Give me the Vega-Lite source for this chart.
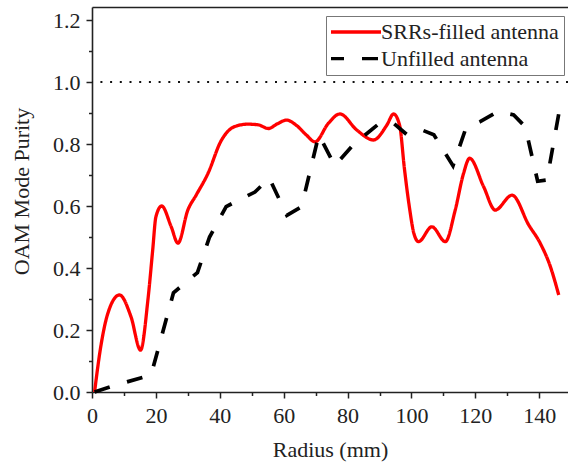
{
  "$schema": "https://vega.github.io/schema/vega-lite/v6.json",
  "autosize": "none",
  "width": 476,
  "height": 385,
  "padding": {"left": 92, "top": 7, "right": 0, "bottom": 71},
  "background": "white",
  "data": {
    "values": [
      {"Radius": 0.8, "Purity": 0.0, "Antenna": "SRRs-filled antenna"},
      {"Radius": 2.8, "Purity": 0.15, "Antenna": "SRRs-filled antenna"},
      {"Radius": 5, "Purity": 0.255, "Antenna": "SRRs-filled antenna"},
      {"Radius": 8.6, "Purity": 0.313, "Antenna": "SRRs-filled antenna"},
      {"Radius": 12.2, "Purity": 0.243, "Antenna": "SRRs-filled antenna"},
      {"Radius": 15.2, "Purity": 0.135, "Antenna": "SRRs-filled antenna"},
      {"Radius": 17.5, "Purity": 0.297, "Antenna": "SRRs-filled antenna"},
      {"Radius": 19, "Purity": 0.458, "Antenna": "SRRs-filled antenna"},
      {"Radius": 20, "Purity": 0.565, "Antenna": "SRRs-filled antenna"},
      {"Radius": 21.8, "Purity": 0.6, "Antenna": "SRRs-filled antenna"},
      {"Radius": 24.8, "Purity": 0.533, "Antenna": "SRRs-filled antenna"},
      {"Radius": 26.9, "Purity": 0.48, "Antenna": "SRRs-filled antenna"},
      {"Radius": 30, "Purity": 0.587, "Antenna": "SRRs-filled antenna"},
      {"Radius": 32.6, "Purity": 0.635, "Antenna": "SRRs-filled antenna"},
      {"Radius": 36.3, "Purity": 0.705, "Antenna": "SRRs-filled antenna"},
      {"Radius": 40.4, "Purity": 0.81, "Antenna": "SRRs-filled antenna"},
      {"Radius": 44.6, "Purity": 0.856, "Antenna": "SRRs-filled antenna"},
      {"Radius": 48.8, "Purity": 0.864, "Antenna": "SRRs-filled antenna"},
      {"Radius": 52, "Purity": 0.862, "Antenna": "SRRs-filled antenna"},
      {"Radius": 55.2, "Purity": 0.85, "Antenna": "SRRs-filled antenna"},
      {"Radius": 58, "Purity": 0.865, "Antenna": "SRRs-filled antenna"},
      {"Radius": 60.9, "Purity": 0.877, "Antenna": "SRRs-filled antenna"},
      {"Radius": 64, "Purity": 0.86, "Antenna": "SRRs-filled antenna"},
      {"Radius": 67, "Purity": 0.83, "Antenna": "SRRs-filled antenna"},
      {"Radius": 69.8, "Purity": 0.807, "Antenna": "SRRs-filled antenna"},
      {"Radius": 74, "Purity": 0.867, "Antenna": "SRRs-filled antenna"},
      {"Radius": 77.6, "Purity": 0.897, "Antenna": "SRRs-filled antenna"},
      {"Radius": 82.9, "Purity": 0.845, "Antenna": "SRRs-filled antenna"},
      {"Radius": 88.1, "Purity": 0.813, "Antenna": "SRRs-filled antenna"},
      {"Radius": 92.3, "Purity": 0.861, "Antenna": "SRRs-filled antenna"},
      {"Radius": 94.4, "Purity": 0.897, "Antenna": "SRRs-filled antenna"},
      {"Radius": 96.3, "Purity": 0.86, "Antenna": "SRRs-filled antenna"},
      {"Radius": 97.8, "Purity": 0.72, "Antenna": "SRRs-filled antenna"},
      {"Radius": 99.3, "Purity": 0.6, "Antenna": "SRRs-filled antenna"},
      {"Radius": 100.8, "Purity": 0.51, "Antenna": "SRRs-filled antenna"},
      {"Radius": 102.2, "Purity": 0.485, "Antenna": "SRRs-filled antenna"},
      {"Radius": 106.4, "Purity": 0.533, "Antenna": "SRRs-filled antenna"},
      {"Radius": 110.6, "Purity": 0.485, "Antenna": "SRRs-filled antenna"},
      {"Radius": 113.7, "Purity": 0.587, "Antenna": "SRRs-filled antenna"},
      {"Radius": 116.3, "Purity": 0.705, "Antenna": "SRRs-filled antenna"},
      {"Radius": 118.2, "Purity": 0.754, "Antenna": "SRRs-filled antenna"},
      {"Radius": 122.6, "Purity": 0.662, "Antenna": "SRRs-filled antenna"},
      {"Radius": 126.2, "Purity": 0.587, "Antenna": "SRRs-filled antenna"},
      {"Radius": 131.5, "Purity": 0.635, "Antenna": "SRRs-filled antenna"},
      {"Radius": 136.7, "Purity": 0.539, "Antenna": "SRRs-filled antenna"},
      {"Radius": 140.3, "Purity": 0.48, "Antenna": "SRRs-filled antenna"},
      {"Radius": 143.5, "Purity": 0.404, "Antenna": "SRRs-filled antenna"},
      {"Radius": 146.1, "Purity": 0.313, "Antenna": "SRRs-filled antenna"},
      {"Radius": 0.8, "Purity": 0.0, "Antenna": "Unfilled antenna"},
      {"Radius": 6, "Purity": 0.018, "Antenna": "Unfilled antenna"},
      {"Radius": 18.5, "Purity": 0.055, "Antenna": "Unfilled antenna"},
      {"Radius": 25.5, "Purity": 0.32, "Antenna": "Unfilled antenna"},
      {"Radius": 33, "Purity": 0.385, "Antenna": "Unfilled antenna"},
      {"Radius": 36.8, "Purity": 0.5, "Antenna": "Unfilled antenna"},
      {"Radius": 42, "Purity": 0.598, "Antenna": "Unfilled antenna"},
      {"Radius": 47, "Purity": 0.625, "Antenna": "Unfilled antenna"},
      {"Radius": 51, "Purity": 0.645, "Antenna": "Unfilled antenna"},
      {"Radius": 55.5, "Purity": 0.69, "Antenna": "Unfilled antenna"},
      {"Radius": 61, "Purity": 0.57, "Antenna": "Unfilled antenna"},
      {"Radius": 65.6, "Purity": 0.598, "Antenna": "Unfilled antenna"},
      {"Radius": 71, "Purity": 0.83, "Antenna": "Unfilled antenna"},
      {"Radius": 76, "Purity": 0.73, "Antenna": "Unfilled antenna"},
      {"Radius": 82, "Purity": 0.8, "Antenna": "Unfilled antenna"},
      {"Radius": 90, "Purity": 0.867, "Antenna": "Unfilled antenna"},
      {"Radius": 94.4, "Purity": 0.867, "Antenna": "Unfilled antenna"},
      {"Radius": 98.6, "Purity": 0.83, "Antenna": "Unfilled antenna"},
      {"Radius": 103.3, "Purity": 0.845, "Antenna": "Unfilled antenna"},
      {"Radius": 107, "Purity": 0.83, "Antenna": "Unfilled antenna"},
      {"Radius": 113, "Purity": 0.73, "Antenna": "Unfilled antenna"},
      {"Radius": 117, "Purity": 0.85, "Antenna": "Unfilled antenna"},
      {"Radius": 121.5, "Purity": 0.872, "Antenna": "Unfilled antenna"},
      {"Radius": 127, "Purity": 0.905, "Antenna": "Unfilled antenna"},
      {"Radius": 132, "Purity": 0.894, "Antenna": "Unfilled antenna"},
      {"Radius": 135.6, "Purity": 0.856, "Antenna": "Unfilled antenna"},
      {"Radius": 139.5, "Purity": 0.68, "Antenna": "Unfilled antenna"},
      {"Radius": 142.4, "Purity": 0.684, "Antenna": "Unfilled antenna"},
      {"Radius": 146.5, "Purity": 0.92, "Antenna": "Unfilled antenna"}
    ]
  },
  "resolve": {"axis": {"x": "independent", "y": "independent"}},
  "layer": [
    {
      "transform": [{"filter": "datum.Antenna === 'SRRs-filled antenna'"}],
      "mark": {"type": "line", "interpolate": "monotone", "strokeWidth": 3.3, "strokeCap": "butt"},
      "encoding": {
        "x": {
          "field": "Radius", "type": "quantitative",
          "scale": {"domain": [0, 149], "nice": false, "zero": false},
          "axis": {
            "orient": "bottom",
            "values": [0, 10, 20, 30, 40, 50, 60, 70, 80, 90, 100, 110, 120, 130, 140],
            "tickSize": {"condition": {"test": "datum.value % 20 === 0", "value": 6}, "value": 3.5},
            "labelExpr": "datum.value % 20 === 0 ? datum.label : ''",
            "labelOverlap": false,
            "labelFlush": false,
            "labelPadding": 7,
            "labelFont": "Liberation Serif",
            "title": "Radius (mm)",
            "titleFont": "Liberation Serif",
            "titlePadding": 13
          }
        },
        "y": {
          "field": "Purity", "type": "quantitative",
          "scale": {"domain": [0, 1.242], "nice": false, "zero": false},
          "axis": {
            "orient": "left",
            "values": [0, 0.1, 0.2, 0.3, 0.4, 0.5, 0.6, 0.7, 0.8, 0.9, 1.0, 1.1, 1.2],
            "tickSize": {"condition": {"test": "round(datum.value*10) % 2 === 0", "value": 6}, "value": 3.5},
            "labelExpr": "round(datum.value*10) % 2 === 0 ? format(datum.value, '.1f') : ''",
            "labelOverlap": false,
            "labelFlush": false,
            "labelPadding": 6,
            "labelFont": "Liberation Serif",
            "title": "OAM Mode Purity",
            "titleFont": "Liberation Serif",
            "titlePadding": 19,
            "titleY": 184
          }
        },
        "color": {
          "field": "Antenna", "type": "nominal",
          "scale": {"domain": ["SRRs-filled antenna", "Unfilled antenna"], "range": ["#ff0000", "#000000"]},
          "legend": {"title": null, "labelFont": "Liberation Serif"}
        },
        "strokeDash": {
          "field": "Antenna", "type": "nominal",
          "scale": {"domain": ["SRRs-filled antenna", "Unfilled antenna"], "range": [[1, 0], [16, 18]]},
          "legend": {"title": null, "labelFont": "Liberation Serif"}
        }
      }
    },
    {
      "transform": [{"filter": "datum.Antenna === 'Unfilled antenna'"}],
      "mark": {"type": "line", "strokeWidth": 3.7, "strokeCap": "butt"},
      "encoding": {
        "x": {"field": "Radius", "type": "quantitative", "axis": null},
        "y": {"field": "Purity", "type": "quantitative", "axis": null},
        "color": {"field": "Antenna", "type": "nominal", "legend": {"title": null, "labelFont": "Liberation Serif"}},
        "strokeDash": {"field": "Antenna", "type": "nominal", "legend": {"title": null, "labelFont": "Liberation Serif"}}
      }
    },
    {
      "data": {"values": [{"Level": 1}]},
      "mark": {"type": "rule", "color": "#111", "strokeWidth": 2, "strokeDash": [2, 7.7]},
      "encoding": {
        "y": {"field": "Level", "type": "quantitative", "axis": null}
      }
    },
    {
      "mark": {"type": "line", "strokeOpacity": 0},
      "encoding": {
        "x": {
          "field": "Radius", "type": "quantitative",
          "axis": {"orient": "top", "labels": false, "ticks": false, "domain": true, "title": null}
        },
        "y": {"field": "Purity", "type": "quantitative", "axis": null},
        "detail": {"field": "Antenna"}
      }
    }
  ],
  "config": {
    "font": "Liberation Serif",
    "view": {"stroke": null},
    "axis": {
      "grid": false,
      "labelFont": "Liberation Serif",
      "labelFontSize": 22,
      "labelColor": "#222",
      "titleFont": "Liberation Serif",
      "titleFontSize": 22,
      "titleFontWeight": "normal",
      "titleColor": "#222",
      "domainColor": "#222",
      "domainWidth": 1.6,
      "tickColor": "#222",
      "tickWidth": 1.5
    },
    "legend": {
      "orient": "none",
      "legendX": 234,
      "legendY": 9,
      "symbolType": "stroke",
      "symbolSize": 2809,
      "symbolStrokeWidth": 3.3,
      "clipHeight": 22,
      "labelFont": "Liberation Serif",
      "labelFontSize": 22,
      "labelColor": "#222",
      "labelLimit": 400,
      "padding": 5,
      "rowPadding": 4.6,
      "symbolOffset": -5,
      "labelOffset": -2,
      "strokeColor": "#777",
      "fillColor": "white"
    }
  }
}
